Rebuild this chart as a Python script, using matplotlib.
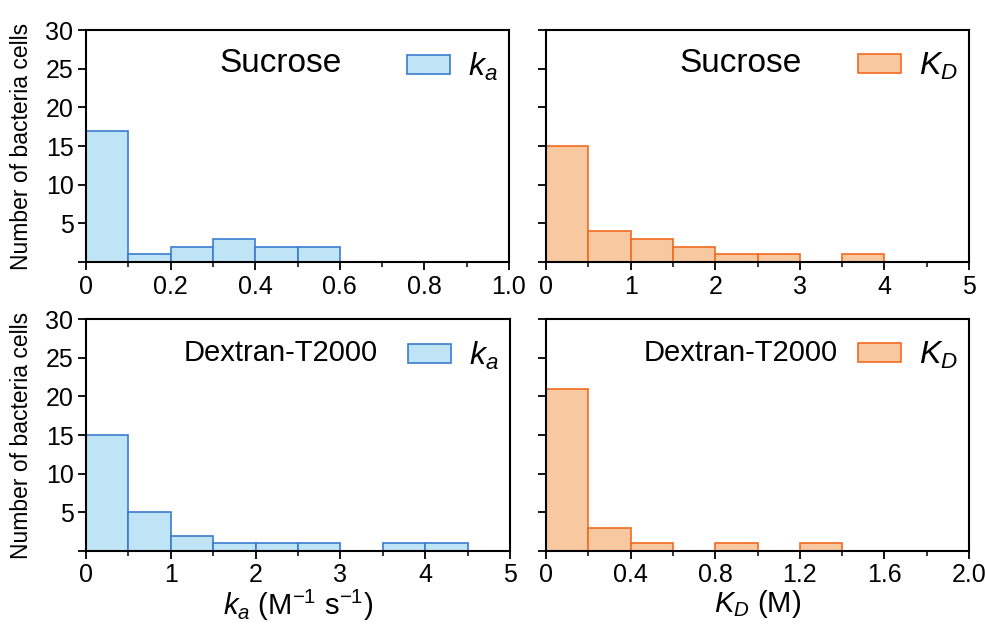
import matplotlib
matplotlib.use("Agg")
import matplotlib.pyplot as plt
import numpy as np

plt.rcParams['font.family'] = ['Liberation Sans', 'DejaVu Sans']
plt.rcParams['mathtext.fontset'] = 'custom'
plt.rcParams['mathtext.rm'] = 'Liberation Sans'
plt.rcParams['mathtext.it'] = 'Liberation Sans:italic'

# bin edges and counts for each panel
ka_suc_edges = [0, 0.1, 0.2, 0.3, 0.4, 0.5, 0.6]
ka_suc_counts = [17, 1, 2, 3, 2, 2]

kd_suc_edges = [0, 0.5, 1.0, 1.5, 2.0, 2.5, 3.0, 3.5, 4.0]
kd_suc_counts = [15, 4, 3, 2, 1, 1, 0, 1]

ka_dex_edges = [0, 0.5, 1.0, 1.5, 2.0, 2.5, 3.0, 3.5, 4.0, 4.5]
ka_dex_counts = [15, 5, 2, 1, 1, 1, 0, 1, 1]

kd_dex_edges = [0, 0.2, 0.4, 0.6, 0.8, 1.0, 1.2, 1.4]
kd_dex_counts = [21, 3, 1, 0, 1, 0, 1]

blue_fill, blue_edge = '#bfe4f6', '#3b7bd0'
orange_fill, orange_edge = '#f8c8a0', '#f26b21'

W, H = 985, 626
fig = plt.figure(figsize=(W / 100, H / 100), dpi=100)


def make_ax(x0, y0, x1, y1):
    return fig.add_axes([x0 / W, 1 - y1 / H, (x1 - x0) / W, (y1 - y0) / H])


def panel(ax, edges, counts, fill, edge, title, leg, xmax, major, minor, xfmt, ylab):
    edges = np.array(edges)
    counts = np.array(counts)
    keep = counts > 0
    ax.bar(edges[:-1][keep], counts[keep], width=np.diff(edges)[keep], align='edge',
           color=fill, edgecolor=edge, linewidth=1.2, label=leg)
    ax.set_xlim(0, xmax)
    ax.set_ylim(0, 30)
    ax.set_xticks(major)
    ax.set_xticklabels([xfmt(v) for v in major])
    ax.set_xticks(minor, minor=True)
    ax.set_yticks([0, 5, 10, 15, 20, 25, 30])
    if ylab:
        ax.set_yticklabels(['', '5', '10', '15', '20', '25', '30'])
        ax.set_ylabel('Number of bacteria cells', fontsize=16.5)
        ax.yaxis.set_label_coords(-0.125, 0.5)
    else:
        ax.set_yticklabels([])
    ax.tick_params(direction='out', length=6, width=1.3, labelsize=18, pad=3)
    ax.tick_params(which='minor', direction='out', length=3.5, width=1.1)
    for s in ax.spines.values():
        s.set_linewidth(1.5)
    fs = 24 if title == 'Sucrose' else 21
    ax.text(0.46, 0.855, title, transform=ax.transAxes, fontsize=fs,
            ha='center', va='center')
    ax.legend(loc='upper right', frameon=False, fontsize=23, handlelength=1.35,
              handleheight=0.55, handletextpad=0.55, borderaxespad=0.15,
              bbox_to_anchor=(1.014, 0.985))


def fmt_dec(v):
    return '0' if v == 0 else f'{v:.1f}'


def fmt_int(v):
    return f'{int(v)}'


ax1 = make_ax(86, 30, 509, 262)
panel(ax1, ka_suc_edges, ka_suc_counts, blue_fill, blue_edge, 'Sucrose', '$k_a$',
      1.0, np.arange(0, 1.01, 0.2), np.arange(0.1, 1.0, 0.2), fmt_dec, True)

ax2 = make_ax(546, 30, 969, 262)
panel(ax2, kd_suc_edges, kd_suc_counts, orange_fill, orange_edge, 'Sucrose', '$K_D$',
      5, np.arange(0, 6, 1), np.arange(0.5, 5, 1), fmt_int, False)

ax3 = make_ax(86, 319, 510, 551)
panel(ax3, ka_dex_edges, ka_dex_counts, blue_fill, blue_edge, 'Dextran-T2000', '$k_a$',
      5, np.arange(0, 6, 1), np.arange(0.5, 5, 1), fmt_int, True)
ax3.set_xlabel('$k_a$ (M$^{-1}$ s$^{-1}$)', fontsize=21, labelpad=0)

ax4 = make_ax(546, 319, 969, 551)
panel(ax4, kd_dex_edges, kd_dex_counts, orange_fill, orange_edge, 'Dextran-T2000', '$K_D$',
      2.0, np.arange(0, 2.01, 0.4), np.arange(0.2, 2.0, 0.4), fmt_dec, False)
ax4.set_xlabel('$K_D$ (M)', fontsize=21, labelpad=0)

fig.savefig('out.png', dpi=100)
